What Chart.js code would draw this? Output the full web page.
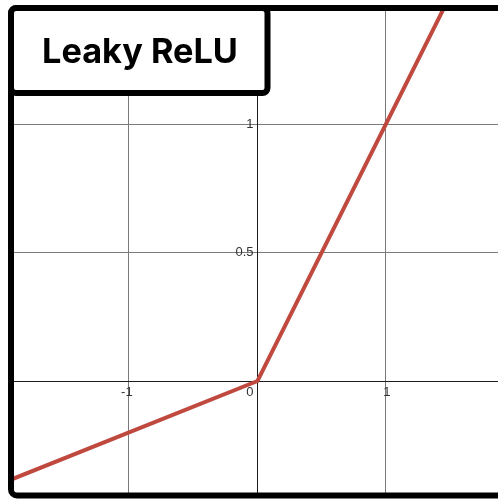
<!DOCTYPE html>
<html>
<head>
<meta charset="utf-8">
<script src="https://cdn.jsdelivr.net/npm/chart.js@4"></script>
<style>
  html, body { margin: 0; padding: 0; background: #fff; }
  canvas { display: block; }
</style>
</head>
<body>
<canvas id="c" width="498" height="500"></canvas>
<script>
// Leaky ReLU: f(x) = x for x >= 0, 0.2·x for x < 0
const inputX = [-2, 0, 1.5];
const outputY = [-0.4, 0, 1.5];

const xTickValues = [-1, 0, 1];
const xTickLabels = ['-1', '0', '1'];
const yTickValues = [0.5, 1];
const yTickLabels = ['0.5', '1'];

const titleText = 'Leaky ReLU';

// visible window of the graph paper
const X_MIN = -2.004, X_MAX = 1.872;
const Y_MIN = -0.463, Y_MAX = 1.4825;

const GRID = '#7a7a7a';
const AXIS = '#1c1c1c';
const CURVE = '#c0493f';

function roundedPath(ctx, left, top, right, bottom, r, openRight) {
  ctx.beginPath();
  if (openRight) {
    ctx.moveTo(right, top);
    ctx.lineTo(left + r, top);
    ctx.arcTo(left, top, left, top + r, r);
    ctx.lineTo(left, bottom - r);
    ctx.arcTo(left, bottom, left + r, bottom, r);
    ctx.lineTo(right, bottom);
  } else {
    ctx.moveTo(left + r, top);
    ctx.lineTo(right - r, top);
    ctx.arcTo(right, top, right, top + r, r);
    ctx.lineTo(right, bottom - r);
    ctx.arcTo(right, bottom, right - r, bottom, r);
    ctx.lineTo(left + r, bottom);
    ctx.arcTo(left, bottom, left, bottom - r, r);
    ctx.lineTo(left, top + r);
    ctx.arcTo(left, top, left + r, top, r);
    ctx.closePath();
  }
}

const decorations = {
  id: 'decorations',
  afterDraw(chart) {
    const { ctx, scales: { x, y } } = chart;
    const x0 = x.getPixelForValue(0);
    const y0 = y.getPixelForValue(0);
    ctx.save();

    // tick labels
    ctx.fillStyle = '#333';
    ctx.font = '13px "Liberation Sans", Arial, sans-serif';
    ctx.textBaseline = 'alphabetic';
    xTickValues.forEach((v, i) => {
      const label = xTickLabels[i];
      const px = x.getPixelForValue(v);
      if (v === 0) {
        ctx.textAlign = 'right';
        ctx.fillText(label, px - 4, y0 + 15);
      } else if (v < 0) {
        const digits = label.replace('-', '');
        const wd = ctx.measureText(digits).width;
        const wm = ctx.measureText('-').width;
        ctx.textAlign = 'left';
        ctx.fillText(label, px - wd / 2 - wm, y0 + 15);
      } else {
        ctx.textAlign = 'center';
        ctx.fillText(label, px + 1, y0 + 15);
      }
    });
    ctx.textAlign = 'right';
    ctx.textBaseline = 'middle';
    yTickValues.forEach((v, i) => {
      ctx.fillText(yTickLabels[i], x0 - 4, y.getPixelForValue(v));
    });

    // blank margin outside the frame
    ctx.fillStyle = '#fff';
    ctx.fillRect(0, 0, 9, chart.height);
    ctx.fillRect(0, 0, chart.width, 6);
    ctx.fillRect(0, 497, chart.width, chart.height - 497);

    // outer frame, open on the right
    ctx.strokeStyle = '#000';
    ctx.lineWidth = 6;
    ctx.lineJoin = 'round';
    roundedPath(ctx, 11, 8, 530, 495.5, 6, true);
    ctx.stroke();

    // title box
    roundedPath(ctx, 11, 8, 267.5, 93, 5, false);
    ctx.fillStyle = '#fff';
    ctx.fill();
    ctx.stroke();

    let size = 34;
    ctx.font = `700 ${size}px Inter, "Noto Sans", sans-serif`;
    const w = ctx.measureText(titleText).width;
    size = size * 196 / w;
    ctx.font = `700 ${size.toFixed(2)}px Inter, "Noto Sans", sans-serif`;
    ctx.fillStyle = '#000';
    ctx.textAlign = 'left';
    ctx.textBaseline = 'alphabetic';
    ctx.fillText(titleText, 42, 63);

    ctx.restore();
  }
};

new Chart(document.getElementById('c'), {
  type: 'scatter',
  data: {
    datasets: [{
      data: inputX.map((v, i) => ({ x: v, y: outputY[i] })),
      showLine: true,
      borderColor: CURVE,
      borderWidth: 4,
      pointRadius: 0,
      pointHoverRadius: 0,
      tension: 0
    }]
  },
  options: {
    responsive: false,
    animation: false,
    devicePixelRatio: 1,
    layout: { padding: 0 },
    plugins: { legend: { display: false }, tooltip: { enabled: false } },
    events: [],
    scales: {
      x: {
        type: 'linear',
        position: { y: 0 },
        min: X_MIN, max: X_MAX,
        afterBuildTicks: s => { s.ticks = xTickValues.map(v => ({ value: v })); },
        ticks: { display: false },
        grid: {
          drawTicks: false,
          color: c => (c.tick && c.tick.value === 0 ? AXIS : GRID),
          lineWidth: 1
        },
        border: { display: true, color: AXIS, width: 1 }
      },
      y: {
        type: 'linear',
        position: { x: 0 },
        min: Y_MIN, max: Y_MAX,
        afterBuildTicks: s => { s.ticks = yTickValues.map(v => ({ value: v })); },
        ticks: { display: false },
        grid: { drawTicks: false, color: GRID, lineWidth: 1 },
        border: { display: true, color: AXIS, width: 1 }
      }
    }
  },
  plugins: [decorations]
});
</script>
</body>
</html>
